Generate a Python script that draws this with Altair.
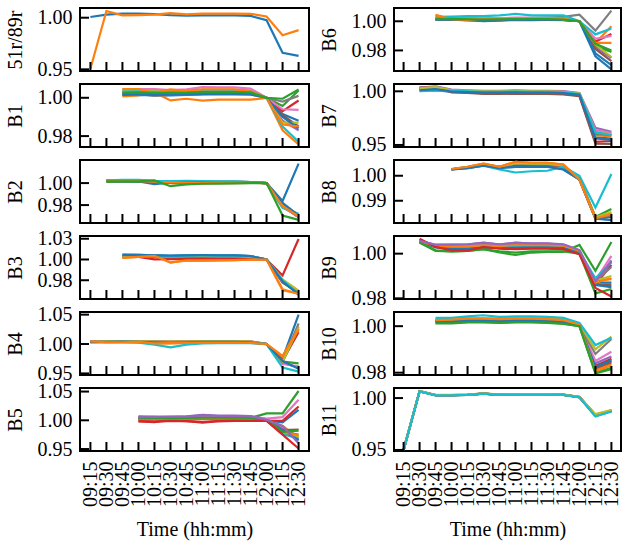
import altair as alt
import pandas as pd

SERIF = "Liberation Serif"

TIMES = ["09:15", "09:30", "09:45", "10:00", "10:15", "10:30", "10:45",
         "11:00", "11:15", "11:30", "11:45", "12:00", "12:15", "12:30"]

TAB10 = ["#1f77b4", "#ff7f0e", "#2ca02c", "#d62728", "#9467bd",
         "#8c564b", "#e377c2", "#7f7f7f", "#bcbd22", "#17becf"]

# ---- ratio 51r/89r (from 09:15) ----
S_51R = [
    [1.0007, 1.0030, 1.0040, 1.0040, 1.0035, 1.0025, 1.0020, 1.0022, 1.0022, 1.0022, 1.0018, 0.9975, 0.9660, 0.9630],
    [0.9505, 1.0065, 1.0023, 1.0025, 1.0030, 1.0045, 1.0032, 1.0040, 1.0040, 1.0040, 1.0038, 1.0012, 0.9830, 0.9880],
]

# ---- B1 (from 09:45) ----
S_B1 = [
    [1.0012, 1.0015, 1.0012, 1.0013, 1.0015, 1.0018, 1.0018, 1.0019, 1.0018, 1.0000, 0.9915, 0.9880],
    [1.0007, 1.0012, 1.0028, 0.9986, 0.9995, 0.9985, 0.9990, 0.9990, 0.9990, 1.0000, 0.9830, 0.9757],
    [1.0025, 1.0028, 1.0025, 1.0026, 1.0026, 1.0030, 1.0030, 1.0030, 1.0028, 1.0000, 0.9957, 1.0038],
    [1.0030, 1.0032, 1.0030, 1.0031, 1.0030, 1.0034, 1.0034, 1.0033, 1.0030, 1.0000, 0.9930, 0.9986],
    [1.0038, 1.0040, 1.0038, 1.0036, 1.0038, 1.0042, 1.0042, 1.0042, 1.0038, 1.0000, 0.9880, 0.9830],
    [1.0020, 1.0022, 1.0020, 1.0020, 1.0022, 1.0025, 1.0025, 1.0025, 1.0022, 1.0000, 0.9910, 0.9850],
    [1.0044, 1.0046, 1.0046, 1.0040, 1.0044, 1.0056, 1.0054, 1.0054, 1.0048, 1.0000, 0.9940, 0.9937],
    [1.0021, 1.0020, 1.0010, 1.0015, 1.0017, 1.0019, 1.0022, 1.0022, 1.0022, 1.0000, 0.9980, 1.0010],
    [1.0035, 1.0036, 1.0034, 1.0034, 1.0035, 1.0038, 1.0038, 1.0038, 1.0034, 1.0000, 0.9870, 0.9870],
    [1.0032, 1.0034, 1.0030, 1.0032, 1.0033, 1.0036, 1.0036, 1.0036, 1.0032, 1.0000, 0.9850, 0.9770],
    [1.0015, 1.0018, 1.0015, 1.0016, 1.0018, 1.0020, 1.0020, 1.0020, 1.0018, 1.0000, 0.9900, 0.9840],
    [1.0046, 1.0046, 1.0026, 1.0044, 1.0035, 1.0044, 1.0044, 1.0044, 1.0032, 1.0000, 0.9860, 0.9850],
    [1.0026, 1.0028, 1.0026, 1.0026, 1.0027, 1.0030, 1.0030, 1.0030, 1.0028, 1.0000, 0.9995, 1.0043],
]

# ---- B2 (from 09:30) ----
S_B2 = [
    [1.0020, 1.0020, 1.0015, 0.9991, 1.0005, 1.0008, 1.0010, 1.0010, 1.0010, 1.0008, 1.0000, 0.9838, 1.0177],
    [1.0015, 1.0020, 1.0020, 1.0010, 1.0000, 0.9995, 0.9995, 1.0000, 1.0000, 1.0002, 1.0000, 0.9790, 0.9700],
    [1.0012, 1.0012, 1.0014, 1.0010, 1.0005, 1.0005, 1.0005, 1.0006, 1.0006, 1.0004, 1.0000, 0.9800, 0.9690],
    [1.0020, 1.0022, 1.0020, 1.0012, 1.0010, 1.0008, 1.0005, 1.0008, 1.0008, 1.0005, 1.0000, 0.9800, 0.9690],
    [1.0022, 1.0025, 1.0022, 1.0015, 1.0012, 1.0010, 1.0010, 1.0012, 1.0012, 1.0008, 1.0000, 0.9795, 0.9695],
    [1.0018, 1.0020, 1.0018, 1.0010, 1.0008, 1.0005, 1.0005, 1.0006, 1.0006, 1.0004, 1.0000, 0.9785, 0.9690],
    [1.0025, 1.0028, 1.0025, 1.0018, 1.0015, 1.0012, 1.0012, 1.0015, 1.0015, 1.0010, 1.0000, 0.9780, 0.9695],
    [1.0020, 1.0022, 1.0020, 1.0012, 1.0010, 1.0010, 1.0010, 1.0012, 1.0012, 1.0008, 1.0000, 0.9790, 0.9700],
    [1.0022, 1.0025, 1.0022, 1.0015, 1.0012, 1.0010, 1.0010, 1.0012, 1.0012, 1.0008, 1.0000, 0.9810, 0.9710],
    [1.0025, 1.0030, 1.0030, 1.0020, 1.0018, 1.0020, 1.0018, 1.0015, 1.0015, 1.0010, 1.0000, 0.9775, 0.9720],
    [1.0018, 1.0020, 1.0018, 1.0012, 1.0010, 1.0008, 1.0008, 1.0010, 1.0010, 1.0006, 1.0000, 0.9820, 0.9705],
    [1.0020, 1.0022, 1.0020, 1.0012, 1.0008, 1.0005, 1.0005, 1.0006, 1.0006, 1.0004, 1.0000, 0.9790, 0.9700],
    [1.0015, 1.0015, 1.0016, 1.0024, 0.9972, 0.9988, 0.9994, 0.9995, 0.9998, 1.0000, 1.0000, 0.9705, 0.9665],
]

# ---- B3 (from 09:45) ----
S_B3 = [
    [1.0059, 1.0055, 1.0050, 1.0045, 1.0050, 1.0052, 1.0050, 1.0050, 1.0040, 1.0000, 0.9740, 0.9575],
    [1.0020, 1.0030, 1.0044, 0.9962, 0.9990, 0.9985, 0.9988, 0.9992, 0.9998, 1.0000, 0.9628, 0.9590],
    [1.0040, 1.0042, 1.0035, 1.0030, 1.0035, 1.0038, 1.0036, 1.0036, 1.0030, 1.0000, 0.9720, 0.9600],
    [1.0030, 1.0030, 1.0002, 1.0005, 1.0008, 1.0010, 1.0010, 1.0010, 1.0005, 1.0000, 0.9808, 1.0247],
    [1.0045, 1.0048, 1.0040, 1.0038, 1.0042, 1.0045, 1.0042, 1.0042, 1.0036, 1.0000, 0.9730, 0.9610],
    [1.0035, 1.0038, 1.0030, 1.0028, 1.0032, 1.0035, 1.0033, 1.0033, 1.0028, 1.0000, 0.9725, 0.9600],
    [1.0048, 1.0050, 1.0045, 1.0040, 1.0045, 1.0048, 1.0046, 1.0046, 1.0040, 1.0000, 0.9735, 0.9605],
    [1.0038, 1.0040, 1.0035, 1.0032, 1.0036, 1.0038, 1.0036, 1.0036, 1.0030, 1.0000, 0.9745, 0.9615],
    [1.0042, 1.0045, 1.0040, 1.0036, 1.0040, 1.0042, 1.0040, 1.0040, 1.0034, 1.0000, 0.9760, 0.9625],
    [1.0050, 1.0052, 1.0046, 1.0042, 1.0046, 1.0048, 1.0046, 1.0046, 1.0040, 1.0000, 0.9750, 0.9585],
    [1.0055, 1.0055, 1.0050, 1.0046, 1.0050, 1.0052, 1.0050, 1.0050, 1.0042, 1.0000, 0.9735, 0.9580],
    [1.0022, 1.0032, 1.0044, 0.9965, 0.9990, 0.9986, 0.9989, 0.9993, 0.9998, 1.0000, 0.9640, 0.9585],
]

# ---- B4 (from 09:15) ----
S_B4 = [
    [1.0030, 1.0030, 1.0035, 1.0030, 1.0025, 1.0020, 1.0025, 1.0030, 1.0030, 1.0030, 1.0028, 1.0000, 0.9750, 1.0500],
    [1.0045, 1.0030, 1.0035, 1.0035, 1.0010, 1.0010, 1.0020, 1.0020, 1.0020, 1.0020, 1.0020, 1.0000, 0.9780, 1.0300],
    [1.0030, 1.0035, 1.0040, 1.0035, 1.0030, 1.0030, 1.0030, 1.0035, 1.0035, 1.0035, 1.0030, 1.0000, 0.9700, 0.9670],
    [1.0035, 1.0035, 1.0040, 1.0040, 1.0035, 1.0030, 1.0035, 1.0040, 1.0040, 1.0040, 1.0035, 1.0000, 0.9720, 1.0200],
    [1.0040, 1.0040, 1.0045, 1.0045, 1.0040, 1.0035, 1.0040, 1.0045, 1.0045, 1.0045, 1.0040, 1.0000, 0.9680, 0.9600],
    [1.0035, 1.0040, 1.0040, 1.0040, 1.0035, 1.0035, 1.0035, 1.0040, 1.0040, 1.0040, 1.0035, 1.0000, 0.9700, 1.0250],
    [1.0045, 1.0045, 1.0050, 1.0050, 1.0045, 1.0040, 1.0045, 1.0050, 1.0050, 1.0050, 1.0045, 1.0000, 0.9660, 0.9620],
    [1.0040, 1.0040, 1.0045, 1.0045, 1.0040, 1.0035, 1.0040, 1.0045, 1.0045, 1.0045, 1.0040, 1.0000, 0.9690, 1.0350],
    [1.0040, 1.0045, 1.0045, 1.0045, 1.0040, 1.0040, 1.0040, 1.0045, 1.0045, 1.0045, 1.0040, 1.0000, 0.9700, 1.0280],
    [1.0030, 1.0030, 1.0030, 1.0025, 0.9990, 0.9945, 0.9990, 1.0010, 1.0015, 1.0015, 1.0015, 1.0000, 0.9600, 0.9530],
    [1.0035, 1.0035, 1.0040, 1.0035, 1.0030, 1.0025, 1.0030, 1.0035, 1.0035, 1.0035, 1.0030, 1.0000, 0.9710, 0.9580],
    [1.0045, 1.0030, 1.0030, 1.0035, 1.0010, 1.0015, 1.0020, 1.0025, 1.0025, 1.0025, 1.0020, 1.0000, 0.9800, 1.0250],
]

# ---- B5 (from 10:00) ----
S_B5 = [
    [1.0030, 1.0030, 1.0035, 1.0030, 1.0035, 1.0035, 1.0035, 1.0030, 1.0000, 0.9966, 1.0180],
    [1.0020, 1.0020, 1.0025, 1.0020, 1.0025, 1.0025, 1.0025, 1.0020, 1.0000, 0.9900, 0.9700],
    [1.0070, 1.0060, 1.0040, 1.0045, 1.0040, 1.0045, 1.0045, 1.0040, 1.0120, 1.0120, 1.0510],
    [0.9980, 0.9970, 1.0000, 0.9985, 0.9960, 0.9985, 0.9990, 0.9990, 0.9990, 0.9990, 1.0240],
    [1.0050, 1.0060, 1.0060, 1.0070, 1.0095, 1.0080, 1.0080, 1.0075, 1.0020, 0.9850, 0.9650],
    [1.0035, 1.0035, 1.0040, 1.0035, 1.0040, 1.0040, 1.0040, 1.0035, 1.0000, 0.9830, 0.9840],
    [1.0045, 1.0045, 1.0050, 1.0045, 1.0050, 1.0050, 1.0050, 1.0045, 1.0030, 1.0056, 1.0356],
    [1.0030, 1.0030, 1.0035, 1.0030, 1.0035, 1.0035, 1.0035, 1.0030, 1.0000, 0.9800, 0.9750],
    [1.0040, 1.0040, 1.0045, 1.0040, 1.0045, 1.0045, 1.0045, 1.0040, 1.0000, 0.9780, 0.9720],
    [1.0035, 1.0035, 1.0040, 1.0035, 1.0040, 1.0040, 1.0040, 1.0035, 1.0000, 0.9760, 0.9680],
    [1.0025, 1.0025, 1.0030, 1.0025, 1.0030, 1.0030, 1.0030, 1.0025, 1.0000, 0.9820, 0.9660],
    [1.0030, 1.0030, 1.0035, 1.0030, 1.0035, 1.0035, 1.0035, 1.0030, 1.0000, 0.9790, 0.9740],
    [1.0040, 1.0040, 1.0045, 1.0040, 1.0045, 1.0045, 1.0045, 1.0040, 1.0000, 0.9800, 0.9820],
    [0.9985, 0.9980, 0.9990, 0.9985, 0.9975, 0.9985, 0.9990, 0.9990, 0.9990, 0.9750, 0.9510],
    [1.0055, 1.0060, 1.0065, 1.0065, 1.0085, 1.0075, 1.0075, 1.0070, 1.0010, 0.9900, 0.9600],
]

# ---- B6 (from 09:45) ----
S_B6 = [
    [1.0010, 1.0012, 1.0008, 1.0000, 1.0005, 1.0010, 1.0008, 1.0010, 1.0010, 1.0000, 0.9760, 0.9670],
    [1.0045, 1.0012, 1.0005, 1.0015, 1.0012, 1.0015, 1.0015, 1.0015, 1.0015, 1.0000, 0.9852, 0.9966],
    [1.0015, 1.0018, 1.0015, 1.0012, 1.0015, 1.0015, 1.0015, 1.0015, 1.0012, 1.0000, 0.9830, 0.9790],
    [1.0020, 1.0022, 1.0020, 1.0015, 1.0020, 1.0020, 1.0020, 1.0020, 1.0015, 1.0000, 0.9860, 0.9913],
    [1.0010, 1.0012, 1.0010, 1.0005, 1.0008, 1.0010, 1.0010, 1.0010, 1.0008, 1.0000, 0.9820, 0.9750],
    [1.0015, 1.0015, 1.0012, 1.0010, 1.0012, 1.0015, 1.0012, 1.0012, 1.0010, 1.0000, 0.9810, 0.9727],
    [1.0025, 1.0025, 1.0022, 1.0020, 1.0022, 1.0025, 1.0025, 1.0025, 1.0020, 1.0000, 0.9880, 0.9900],
    [1.0020, 1.0022, 1.0020, 1.0012, 1.0015, 1.0020, 1.0022, 1.0025, 1.0030, 1.0045, 0.9936, 1.0073],
    [1.0018, 1.0020, 1.0018, 1.0015, 1.0018, 1.0020, 1.0020, 1.0020, 1.0018, 1.0000, 0.9840, 0.9755],
    [1.0030, 1.0032, 1.0035, 1.0035, 1.0040, 1.0050, 1.0040, 1.0040, 1.0040, 1.0000, 0.9910, 0.9950],
    [1.0012, 1.0014, 1.0010, 1.0004, 1.0008, 1.0012, 1.0010, 1.0012, 1.0010, 1.0000, 0.9780, 0.9700],
    [1.0040, 1.0015, 1.0010, 1.0018, 1.0015, 1.0018, 1.0018, 1.0018, 1.0015, 1.0000, 0.9852, 0.9852],
    [1.0015, 1.0016, 1.0014, 1.0012, 1.0014, 1.0015, 1.0015, 1.0015, 1.0012, 1.0000, 0.9845, 0.9800],
]

# ---- B7 (from 09:30) ----
S_B7 = [
    [1.0005, 1.0010, 0.9995, 0.9990, 0.9985, 0.9985, 0.9985, 0.9985, 0.9985, 0.9980, 0.9965, 0.9570, 0.9560],
    [1.0020, 1.0030, 1.0000, 0.9995, 0.9990, 0.9990, 0.9990, 0.9990, 0.9990, 0.9985, 0.9970, 0.9590, 0.9580],
    [1.0025, 1.0035, 1.0005, 1.0000, 0.9995, 0.9995, 0.9995, 0.9995, 0.9995, 0.9990, 0.9975, 0.9600, 0.9600],
    [1.0030, 1.0040, 1.0000, 0.9990, 0.9982, 0.9980, 0.9982, 0.9980, 0.9980, 0.9975, 0.9960, 0.9530, 0.9537],
    [1.0035, 1.0045, 1.0015, 1.0010, 1.0005, 1.0005, 1.0008, 1.0005, 1.0005, 1.0003, 0.9985, 0.9660, 0.9623],
    [1.0035, 1.0040, 0.9990, 0.9985, 0.9975, 0.9975, 0.9978, 0.9975, 0.9975, 0.9970, 0.9955, 0.9512, 0.9510],
    [1.0030, 1.0040, 1.0008, 1.0003, 0.9998, 0.9998, 1.0000, 0.9998, 0.9998, 0.9995, 0.9980, 0.9640, 0.9610],
    [1.0025, 1.0035, 1.0003, 0.9998, 0.9992, 0.9992, 0.9994, 0.9992, 0.9992, 0.9988, 0.9972, 0.9610, 0.9590],
    [1.0028, 1.0038, 1.0010, 1.0005, 1.0000, 1.0000, 1.0002, 1.0000, 1.0000, 0.9996, 0.9980, 0.9620, 0.9600],
    [1.0002, 1.0005, 1.0005, 1.0000, 0.9995, 0.9995, 0.9998, 0.9995, 0.9995, 0.9990, 0.9975, 0.9620, 0.9593],
    [1.0010, 1.0020, 0.9998, 0.9993, 0.9988, 0.9988, 0.9990, 0.9988, 0.9988, 0.9983, 0.9968, 0.9560, 0.9550],
]

# ---- B8 (from 10:00) ----
S_B8 = [
    [1.0025, 1.0030, 1.0040, 1.0035, 1.0040, 1.0040, 1.0040, 1.0025, 0.9985, 0.9830, 0.9823],
    [1.0027, 1.0036, 1.0049, 1.0036, 1.0056, 1.0052, 1.0052, 1.0045, 0.9984, 0.9829, 0.9847],
    [1.0026, 1.0034, 1.0045, 1.0036, 1.0048, 1.0047, 1.0047, 1.0040, 0.9990, 0.9835, 0.9867],
    [1.0026, 1.0034, 1.0044, 1.0035, 1.0046, 1.0045, 1.0045, 1.0038, 0.9988, 0.9832, 0.9840],
    [1.0026, 1.0035, 1.0046, 1.0036, 1.0050, 1.0048, 1.0048, 1.0040, 0.9988, 0.9832, 0.9845],
    [1.0025, 1.0033, 1.0044, 1.0035, 1.0045, 1.0044, 1.0044, 1.0036, 0.9987, 0.9831, 0.9835],
    [1.0026, 1.0035, 1.0046, 1.0036, 1.0050, 1.0049, 1.0049, 1.0041, 0.9988, 0.9833, 0.9850],
    [1.0026, 1.0034, 1.0045, 1.0035, 1.0048, 1.0046, 1.0046, 1.0039, 0.9988, 0.9832, 0.9842],
    [1.0026, 1.0035, 1.0046, 1.0036, 1.0050, 1.0048, 1.0048, 1.0040, 0.9989, 0.9834, 0.9855],
    [1.0026, 1.0034, 1.0040, 1.0025, 1.0013, 1.0018, 1.0020, 1.0036, 1.0000, 0.9873, 1.0007],
    [1.0025, 1.0030, 1.0040, 1.0030, 1.0035, 1.0035, 1.0035, 1.0025, 0.9985, 0.9828, 0.9823],
    [1.0027, 1.0036, 1.0049, 1.0036, 1.0056, 1.0052, 1.0052, 1.0045, 0.9984, 0.9829, 0.9847],
]

# ---- B9 (from 09:30) ----
S_B9 = [
    [1.0055, 1.0030, 1.0025, 1.0025, 1.0030, 1.0028, 1.0028, 1.0030, 1.0030, 1.0028, 1.0005, 0.9870, 0.9870],
    [1.0055, 1.0032, 1.0030, 1.0030, 1.0035, 1.0032, 1.0038, 1.0036, 1.0036, 1.0034, 1.0010, 0.9880, 0.9886],
    [1.0050, 1.0012, 1.0010, 1.0012, 1.0020, 1.0005, 0.9994, 1.0005, 1.0008, 1.0008, 1.0039, 0.9923, 1.0052],
    [1.0062, 1.0032, 1.0020, 1.0018, 1.0030, 1.0025, 1.0025, 1.0025, 1.0025, 1.0022, 1.0000, 0.9860, 0.9950],
    [1.0057, 1.0039, 1.0040, 1.0040, 1.0049, 1.0040, 1.0049, 1.0045, 1.0045, 1.0040, 1.0015, 0.9870, 0.9970],
    [1.0055, 1.0030, 1.0025, 1.0025, 1.0030, 1.0028, 1.0030, 1.0030, 1.0030, 1.0028, 1.0005, 0.9860, 0.9860],
    [1.0058, 1.0035, 1.0035, 1.0035, 1.0040, 1.0036, 1.0040, 1.0040, 1.0040, 1.0036, 1.0010, 0.9880, 0.9990],
    [1.0055, 1.0032, 1.0030, 1.0030, 1.0035, 1.0032, 1.0035, 1.0035, 1.0035, 1.0032, 1.0008, 0.9875, 0.9940],
    [1.0056, 1.0034, 1.0032, 1.0032, 1.0037, 1.0034, 1.0037, 1.0037, 1.0037, 1.0034, 1.0010, 0.9880, 0.9900],
    [1.0056, 1.0033, 1.0031, 1.0031, 1.0036, 1.0033, 1.0036, 1.0036, 1.0036, 1.0033, 1.0009, 0.9890, 0.9960],
    [1.0054, 1.0028, 1.0022, 1.0022, 1.0028, 1.0026, 1.0026, 1.0028, 1.0028, 1.0026, 1.0004, 0.9860, 0.9850],
    [1.0056, 1.0034, 1.0032, 1.0032, 1.0037, 1.0034, 1.0040, 1.0038, 1.0038, 1.0036, 1.0012, 0.9870, 0.9890],
    [1.0050, 1.0015, 1.0010, 1.0012, 1.0020, 1.0010, 1.0005, 1.0010, 1.0010, 1.0010, 1.0000, 0.9822, 0.9842],
    [1.0067, 1.0030, 1.0015, 1.0013, 1.0030, 1.0022, 1.0020, 1.0022, 1.0022, 1.0020, 0.9997, 0.9846, 0.9808],
    [1.0057, 1.0040, 1.0040, 1.0042, 1.0048, 1.0042, 1.0048, 1.0046, 1.0046, 1.0042, 1.0016, 0.9875, 0.9965],
]

# ---- B10 (from 09:45) ----
S_B10 = [
    [1.0025, 1.0025, 1.0030, 1.0030, 1.0028, 1.0030, 1.0030, 1.0028, 1.0025, 1.0005, 0.9815, 0.9850],
    [1.0028, 1.0030, 1.0035, 1.0035, 1.0032, 1.0035, 1.0035, 1.0032, 1.0028, 1.0008, 0.9810, 0.9839],
    [1.0014, 1.0014, 1.0018, 1.0018, 1.0016, 1.0018, 1.0018, 1.0016, 1.0012, 1.0000, 0.9800, 0.9821],
    [1.0022, 1.0022, 1.0026, 1.0026, 1.0024, 1.0026, 1.0026, 1.0024, 1.0020, 1.0002, 0.9830, 0.9860],
    [1.0026, 1.0026, 1.0030, 1.0030, 1.0028, 1.0030, 1.0030, 1.0028, 1.0024, 1.0004, 0.9840, 0.9870],
    [1.0020, 1.0020, 1.0024, 1.0024, 1.0022, 1.0024, 1.0024, 1.0022, 1.0018, 1.0002, 0.9820, 0.9845],
    [1.0024, 1.0024, 1.0028, 1.0028, 1.0026, 1.0028, 1.0028, 1.0026, 1.0022, 1.0004, 0.9850, 0.9890],
    [1.0022, 1.0022, 1.0026, 1.0026, 1.0024, 1.0026, 1.0026, 1.0024, 1.0020, 1.0003, 0.9880, 0.9945],
    [1.0030, 1.0030, 1.0034, 1.0034, 1.0032, 1.0034, 1.0034, 1.0032, 1.0028, 1.0008, 0.9900, 0.9955],
    [1.0036, 1.0036, 1.0042, 1.0047, 1.0040, 1.0042, 1.0042, 1.0040, 1.0036, 1.0014, 0.9919, 0.9950],
    [1.0020, 1.0020, 1.0025, 1.0025, 1.0023, 1.0025, 1.0025, 1.0023, 1.0020, 1.0003, 0.9825, 0.9855],
    [1.0026, 1.0028, 1.0032, 1.0032, 1.0030, 1.0032, 1.0032, 1.0030, 1.0026, 1.0006, 0.9805, 0.9832],
    [1.0012, 1.0012, 1.0016, 1.0016, 1.0014, 1.0016, 1.0016, 1.0014, 1.0010, 1.0000, 0.9797, 0.9815],
]

# ---- B11 (from 09:15) ----
S_B11 = [
    [0.9501, 1.0066, 1.0028, 1.0028, 1.0032, 1.0043, 1.0032, 1.0034, 1.0034, 1.0034, 1.0032, 1.0010, 0.9835, 0.9878],
    [0.9501, 1.0066, 1.0027, 1.0027, 1.0031, 1.0043, 1.0031, 1.0033, 1.0033, 1.0033, 1.0031, 1.0009, 0.9832, 0.9876],
    [0.9500, 1.0065, 1.0027, 1.0027, 1.0031, 1.0042, 1.0031, 1.0033, 1.0033, 1.0033, 1.0031, 1.0008, 0.9828, 0.9874],
    [0.9501, 1.0066, 1.0028, 1.0028, 1.0032, 1.0043, 1.0032, 1.0034, 1.0034, 1.0034, 1.0032, 1.0009, 0.9833, 0.9877],
    [0.9501, 1.0067, 1.0029, 1.0029, 1.0033, 1.0044, 1.0033, 1.0035, 1.0035, 1.0035, 1.0033, 1.0011, 0.9838, 0.9880],
    [0.9500, 1.0066, 1.0027, 1.0027, 1.0031, 1.0042, 1.0031, 1.0033, 1.0033, 1.0033, 1.0031, 1.0008, 0.9830, 0.9875],
    [0.9501, 1.0067, 1.0029, 1.0029, 1.0033, 1.0044, 1.0033, 1.0035, 1.0035, 1.0035, 1.0033, 1.0011, 0.9840, 0.9882],
    [0.9501, 1.0066, 1.0028, 1.0028, 1.0032, 1.0043, 1.0032, 1.0034, 1.0034, 1.0034, 1.0032, 1.0010, 0.9836, 0.9879],
    [0.9502, 1.0068, 1.0030, 1.0030, 1.0034, 1.0045, 1.0034, 1.0036, 1.0036, 1.0036, 1.0034, 1.0012, 0.9845, 0.9885],
    [0.9500, 1.0065, 1.0026, 1.0026, 1.0030, 1.0042, 1.0030, 1.0032, 1.0032, 1.0032, 1.0030, 1.0007, 0.9823, 0.9871],
]

# panel name, first time index, series, y range, tick values, tick texts
LEFT_PANELS = [
    ("51r/89r", 0, S_51R, [0.9484, 1.0094], [0.95, 1.00], ["0.95", "1.00"]),
    ("B1", 2, S_B1, [0.9743, 1.0072], [0.98, 1.00], ["0.98", "1.00"]),
    ("B2", 1, S_B2, [0.9637, 1.0210], [0.98, 1.00], ["0.98", "1.00"]),
    ("B3", 2, S_B3, [0.9524, 1.0283], [0.975, 1.00, 1.025], ["0.98", "1.00", "1.03"]),
    ("B4", 0, S_B4, [0.9473, 1.0545], [0.95, 1.00, 1.05], ["0.95", "1.00", "1.05"]),
    ("B5", 3, S_B5, [0.9466, 1.0562], [0.95, 1.00, 1.05], ["0.95", "1.00", "1.05"]),
]
RIGHT_PANELS = [
    ("B6", 2, S_B6, [0.9659, 1.0091], [0.98, 1.00], ["0.98", "1.00"]),
    ("B7", 1, S_B7, [0.9481, 1.0068], [0.95, 1.00], ["0.95", "1.00"]),
    ("B8", 3, S_B8, [0.9811, 1.0063], [0.99, 1.00], ["0.99", "1.00"]),
    ("B9", 1, S_B9, [0.9797, 1.0079], [0.98, 1.00], ["0.98", "1.00"]),
    ("B10", 2, S_B10, [0.9790, 1.0061], [0.98, 1.00], ["0.98", "1.00"]),
    ("B11", 0, S_B11, [0.9490, 1.0097], [0.95, 1.00], ["0.95", "1.00"]),
]

PANEL_H = 63
MAX_SERIES = 15
KEYS = [f"{i:02d}" for i in range(MAX_SERIES)]
color_scale = alt.Scale(domain=KEYS, range=[TAB10[i % 10] for i in range(MAX_SERIES)])


def label_expr(ticks, texts):
    expr = f"'{texts[-1]}'"
    for v, t in zip(reversed(ticks[:-1]), reversed(texts[:-1])):
        expr = f"abs(datum.value - {v}) < 1e-9 ? '{t}' : " + expr
    return expr


def panel(name, start, series, yrange, ticks, texts, bottom, width, pad):
    rows = []
    for i, s in enumerate(series):
        for j, v in enumerate(s):
            rows.append({"time": TIMES[start + j], "value": v, "k": KEYS[i]})
    df = pd.DataFrame(rows)

    xscale = alt.Scale(domain=TIMES, type="point", padding=pad)
    if bottom:
        xaxis = alt.Axis(labelAngle=270, labelPadding=10, ticks=False, domain=False,
                         grid=False, title="Time (hh:mm)", titlePadding=13)
    else:
        xaxis = None
    yscale = alt.Scale(domain=yrange, nice=False, zero=False)
    yaxis = alt.Axis(values=ticks, labelExpr=label_expr(ticks, texts), ticks=False,
                     domain=False, grid=False, labelPadding=8, title=name, titlePadding=12)

    lines = alt.Chart(df).mark_line(strokeWidth=2.2, clip=True).encode(
        x=alt.X("time:O", scale=xscale, axis=xaxis),
        y=alt.Y("value:Q", scale=yscale, axis=yaxis),
        color=alt.Color("k:N", scale=color_scale, legend=None),
    )
    # inward tick marks along the bottom and left edges
    xticks = alt.Chart(pd.DataFrame({"time": TIMES})).mark_rule(color="black", strokeWidth=2).encode(
        x=alt.X("time:O", scale=xscale, axis=xaxis),
        y=alt.value(PANEL_H),
        y2=alt.value(PANEL_H - 9),
    )
    yticks = alt.Chart(pd.DataFrame({"value": ticks})).mark_rule(color="black", strokeWidth=2).encode(
        y=alt.Y("value:Q", scale=yscale, axis=yaxis),
        x=alt.value(0),
        x2=alt.value(9),
    )
    return alt.layer(lines, xticks, yticks).properties(width=width, height=PANEL_H)


left = alt.vconcat(
    *[panel(*p, bottom=(i == len(LEFT_PANELS) - 1), width=229, pad=0.65) for i, p in enumerate(LEFT_PANELS)],
    spacing=13, bounds="flush",
)
right = alt.vconcat(
    *[panel(*p, bottom=(i == len(RIGHT_PANELS) - 1), width=227, pad=0.6) for i, p in enumerate(RIGHT_PANELS)],
    spacing=13, bounds="flush",
)

chart = alt.hconcat(left, right, spacing=8).properties(
    padding={"left": 4, "top": 6, "right": 0, "bottom": 0},
).configure(
    font=SERIF,
).configure_view(
    stroke="black", strokeWidth=2,
).configure_axis(
    labelFont=SERIF, titleFont=SERIF, labelFontSize=20, titleFontSize=20,
    labelColor="black", titleColor="black", titleFontWeight="normal",
)

chart.save("out.html", embed_options={"renderer": "svg", "actions": False})
